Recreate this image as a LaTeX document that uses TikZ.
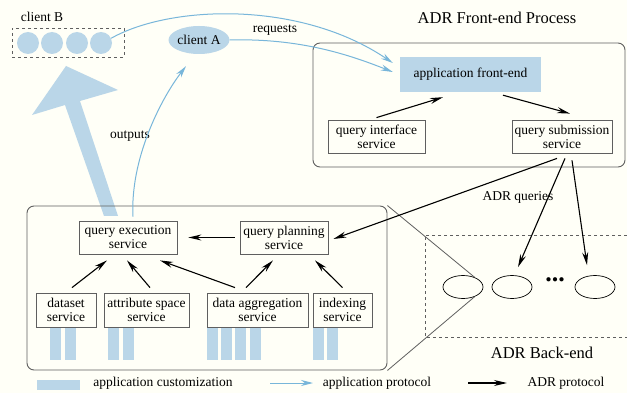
\documentclass[tikz,border=0pt]{standalone}
\usepackage{fontspec}
\setmainfont{Liberation Serif}
\usetikzlibrary{arrows.meta,shapes.geometric}
\definecolor{custblue}{RGB}{186,214,232}
\definecolor{protblue}{RGB}{120,182,218}
\definecolor{boxgray}{RGB}{95,95,95}
\begin{document}
\begin{tikzpicture}[x=1pt,y=-1pt, font=\fontsize{13.5}{14}\selectfont,
  svc/.style={draw=boxgray, line width=0.8pt, rectangle, align=center, inner sep=0pt, minimum height=33pt},
  group/.style={draw=boxgray, line width=0.9pt, rectangle, rounded corners=7pt, inner sep=0pt},
  client/.style={fill=custblue, circle, inner sep=0pt, minimum size=22pt},
  proc/.style={draw, ellipse, line width=0.7pt, inner sep=0pt, minimum width=40pt, minimum height=23pt},
  adr/.style={line width=1.1pt, -{Stealth[length=13pt,width=6pt]}},
  app/.style={draw=protblue, line width=1pt, -{Stealth[length=12pt,width=6pt]}},
  title/.style={font=\fontsize{16.5}{18}\selectfont}]
\useasboundingbox (0,0) rectangle (627,393);
\fill[white!97!yellow] (0,0) rectangle (627,393);

% clients
\node (lblB) at (42,17) {client B};
\node (cb) at (68,42.5) [draw=boxgray, dashed, line width=0.9pt, minimum width=112pt, minimum height=29pt] {};
\node (b1) at (28,43) [client] {};
\node (b2) at (52,43) [client] {};
\node (b3) at (77,43) [client] {};
\node (b4) at (101,43) [client] {};
\node (ca) at (199,40) [fill=custblue, ellipse, inner sep=0pt, minimum width=56pt, minimum height=28pt] {client A};
\node (lblreq) at (275,30) {requests};
\node (lblout) at (130,136) {outputs};

% big output arrow
\fill[custblue] (104,216) -- (65,105) -- (32,115) -- (66,66) -- (118,90) -- (80,101) -- (118,216) -- cycle;

% front-end
\node (lblfe) at (497,18) [title] {ADR Front-end Process};
\node (fe) at (469,105) [group, minimum width=312pt, minimum height=124pt] {};
\node (appfe) at (470.5,74.5) [fill=custblue, inner sep=0pt, minimum width=141pt, minimum height=35pt] {application front-end};
\node (qis) at (376.5,136.5) [svc, minimum width=97pt] {query interface\\service};
\node (qss) at (562,136.5) [svc, minimum width=100pt] {query submission\\service};

% back-end process
\foreach \x in {50,65,108,123,207,221,235,250,313,327}
  \fill[custblue] (\x,327) rectangle ++(11,33);
\node (be) at (207,288) [group, minimum width=360pt, minimum height=164pt] {};
\node (qes) at (128,237.5) [svc, minimum width=98pt] {query execution\\service};
\node (qps) at (284,237.5) [svc, minimum width=88pt] {query planning\\service};
\node (ds) at (66,310) [svc, minimum width=60pt, minimum height=34pt] {dataset\\service};
\node (as) at (146.5,310) [svc, minimum width=85pt, minimum height=34pt] {attribute space\\service};
\node (da) at (257.5,310) [svc, minimum width=101pt, minimum height=34pt] {data aggregation\\service};
\node (ix) at (342.5,310) [svc, minimum width=59pt, minimum height=34pt] {indexing\\service};

% back-end nodes
\draw[dashed, boxgray, line width=0.8pt] (627,235) -- (425,235) -- (425,337) -- (627,337);
\node (e1) at (463,287) [proc] {};
\node (e2) at (512,287) [proc] {};
\node (dots) at (555,280) [font=\fontsize{26}{26}\selectfont\bfseries] {...};
\node (e3) at (595,287) [proc] {};
\node (lblbe) at (542,353) [title] {ADR Back-end};
\node (lblq) at (518,197) {ADR queries};
\draw[boxgray, line width=0.8pt] (be.north east) -- (e1.40);
\draw[boxgray, line width=0.8pt] (be.south east) -- (e1.-40);

% application protocol
\draw[app] (b4.25) .. controls (170,5) and (300,0) .. ([xshift=-7pt,yshift=11.5pt]appfe.west);
\draw[app] (ca.east) .. controls (300,38) and (350,55) .. ([xshift=-7pt,yshift=2.5pt]appfe.west);
\draw[app] ([xshift=5pt,yshift=4pt]qes.north) .. controls (130,160) and (160,100) .. ([xshift=-13pt,yshift=-12pt]ca.south);

% ADR protocol
\draw[adr] ([yshift=2pt]qis.north) -- ([xshift=-27.5pt,yshift=-5pt]appfe.south);
\draw[adr] ([xshift=32.5pt,yshift=-3pt]appfe.south) -- ([xshift=8pt,yshift=6pt]qss.north);
\draw[adr] ([xshift=-5pt,yshift=-5pt]qss.south) -- ([xshift=5pt,yshift=-1.5pt]qps.east);
\draw[adr] ([xshift=3pt,yshift=-5pt]qss.south) -- ([xshift=6pt,yshift=8pt]e2.north);
\draw[adr] ([xshift=10pt,yshift=-7pt]qss.south) -- ([xshift=-8pt,yshift=10pt]e3.north);
\draw[adr] ([xshift=-5pt]qps.west) -- ([xshift=11pt]qes.east);
\draw[adr] ([xshift=6pt,yshift=5pt]ds.north) -- ([xshift=-21pt,yshift=-6pt]qes.south);
\draw[adr] ([xshift=3.5pt,yshift=5pt]as.north) -- ([xshift=-1pt,yshift=-6pt]qes.south);
\draw[adr] ([xshift=-22.5pt,yshift=5pt]da.north) -- ([xshift=32pt,yshift=-6pt]qes.south);
\draw[adr] ([xshift=-11.5pt,yshift=5pt]da.north) -- ([xshift=-11pt,yshift=-6pt]qps.south);
\draw[adr] ([yshift=5pt]ix.north) -- ([xshift=31pt,yshift=-6pt]qps.south);

% legend
\node (kcust) at (58.5,385) [fill=custblue, inner sep=0pt, minimum width=43pt, minimum height=10pt] {};
\node (tcust) at (163,383) {application customization};
\coordinate (kapp1) at (270,383);
\coordinate (kapp2) at (313,383);
\draw[app] (kapp1) -- (kapp2);
\node (tapp) at (377,383) {application protocol};
\coordinate (kadr1) at (468,383);
\coordinate (kadr2) at (507,383);
\draw[adr] (kadr1) -- (kadr2);
\node (tadr) at (566,383) {ADR protocol};
\end{tikzpicture}
\end{document}
